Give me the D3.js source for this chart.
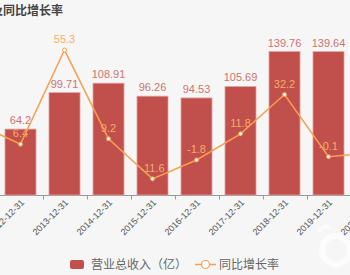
<!DOCTYPE html>
<html>
<head>
<meta charset="utf-8">
<script src="https://cdn.jsdelivr.net/npm/d3@7"></script>
<style>
  html, body { margin: 0; padding: 0; background: #f6f6f6; }
  svg { display: block; font-family: "Liberation Sans", "Noto Sans CJK SC", sans-serif; }
</style>
</head>
<body>
<div id="chart"></div>
<script>
// the picture is a crop of a wider chart: 2011 and 2020 sit just outside it
const categories = ['2011-12-31', '2012-12-31', '2013-12-31', '2014-12-31', '2015-12-31',
  '2016-12-31', '2017-12-31', '2018-12-31', '2019-12-31', '2020-12-31'];
const revenue = [null, 64.2, 99.71, 108.91, 96.26, 94.53, 105.69, 139.76, 139.64, null];
const growth = [17, 6.4, 55.3, 9.2, -11.6, -1.8, 11.8, 32.2, -0.1, 2.0];
const revenueDomain = [0, 150];
const growthDomain = [-20, 60];

const width = 350;
const height = 275;
const barColour = '#c14f4c';
const lineColour = '#f8a04f';

const data = categories.map((c, i) => ({ cat: c, rev: revenue[i], g: growth[i] }));

const svg = d3.select('#chart').append('svg')
  .attr('width', width)
  .attr('height', height)
  .style('background', '#f6f6f6');

const xScale = d3.scaleBand()
  .domain(categories)
  .range([-45.5, 394.5])
  .paddingInner(0.295)
  .paddingOuter(0.1475);

const yBar = d3.scaleLinear().domain(revenueDomain).range([195, 41]);
const yLine = d3.scaleLinear().domain(growthDomain).range([195, 41]);
const cx = d => xScale(d.cat) + xScale.bandwidth() / 2;
const gap = xScale.step() - xScale.bandwidth();

// faint watermark in the corner
const wm = svg.append('g').attr('fill', 'none').attr('stroke', '#ffffff').attr('opacity', 0.75);
wm.append('circle').attr('cx', 336).attr('cy', 250).attr('r', 14).attr('stroke-width', 6);
wm.append('path').attr('d', 'M318,232 q6,-8 12,-4').attr('stroke-width', 4);

// title, cut at the left
svg.append('text')
  .attr('x', 63)
  .attr('y', 15)
  .attr('text-anchor', 'end')
  .attr('fill', '#444')
  .style('font-size', '12px')
  .style('font-weight', 'bold')
  .text('营业总收入及同比增长率');

// axis
svg.append('line')
  .attr('x1', 0).attr('x2', width)
  .attr('y1', 195.5).attr('y2', 195.5)
  .attr('stroke', '#999');

svg.append('g').selectAll('line')
  .data(categories)
  .enter().append('line')
  .attr('x1', d => Math.round(xScale(d) + xScale.bandwidth() + gap / 2) + 0.5)
  .attr('x2', d => Math.round(xScale(d) + xScale.bandwidth() + gap / 2) + 0.5)
  .attr('y1', 195.5).attr('y2', 199.5)
  .attr('stroke', '#999');

svg.append('g').selectAll('text')
  .data(categories)
  .enter().append('text')
  .attr('transform', d => 'translate(' + (xScale(d) + xScale.bandwidth() / 2 + 2) + ',201) rotate(-45)')
  .attr('text-anchor', 'end')
  .attr('dy', '0.35em')
  .attr('fill', '#555')
  .style('font-size', '9px')
  .text(d => d);

// bars
const barData = data.filter(d => d.rev !== null);
svg.append('g').selectAll('rect')
  .data(barData)
  .enter().append('rect')
  .attr('x', d => xScale(d.cat))
  .attr('y', d => yBar(d.rev))
  .attr('width', xScale.bandwidth())
  .attr('height', d => yBar(0) - yBar(d.rev))
  .attr('fill', barColour)
  .attr('stroke', '#e2a3a1')
  .attr('stroke-width', 0.8);

svg.append('g').selectAll('text')
  .data(barData)
  .enter().append('text')
  .attr('x', cx)
  .attr('y', d => yBar(d.rev) - 5)
  .attr('text-anchor', 'middle')
  .attr('fill', '#cf7371')
  .style('font-size', '11px')
  .text(d => d.rev);

// line labels go under the line
svg.append('g').selectAll('text')
  .data(data)
  .enter().append('text')
  .attr('x', cx)
  .attr('y', d => yLine(d.g) - 7)
  .attr('text-anchor', 'middle')
  .attr('fill', '#f5ad6a')
  .style('font-size', '11px')
  .text(d => d.g);

const line = d3.line()
  .x(cx)
  .y(d => yLine(d.g));

svg.append('path')
  .datum(data)
  .attr('d', line)
  .attr('fill', 'none')
  .attr('stroke', lineColour)
  .attr('stroke-width', 1.5);

svg.append('g').selectAll('circle')
  .data(data)
  .enter().append('circle')
  .attr('cx', cx)
  .attr('cy', d => yLine(d.g))
  .attr('r', 2)
  .attr('fill', '#fff')
  .attr('stroke', lineColour)
  .attr('stroke-width', 1);

// legend
const legend = svg.append('g').style('font-size', '12px').attr('fill', '#666');
legend.append('rect')
  .attr('x', 70).attr('y', 260)
  .attr('width', 14).attr('height', 9)
  .attr('rx', 2)
  .attr('fill', barColour);
legend.append('text')
  .attr('x', 91).attr('y', 265)
  .attr('dy', '0.35em')
  .text('营业总收入（亿）');
legend.append('line')
  .attr('x1', 195).attr('x2', 216)
  .attr('y1', 264.5).attr('y2', 264.5)
  .attr('stroke', lineColour)
  .attr('stroke-width', 1.5);
legend.append('circle')
  .attr('cx', 205.5).attr('cy', 264.5)
  .attr('r', 4)
  .attr('fill', '#fff')
  .attr('stroke', lineColour)
  .attr('stroke-width', 1.2);
legend.append('text')
  .attr('x', 219).attr('y', 265)
  .attr('dy', '0.35em')
  .text('同比增长率');
</script>
</body>
</html>
